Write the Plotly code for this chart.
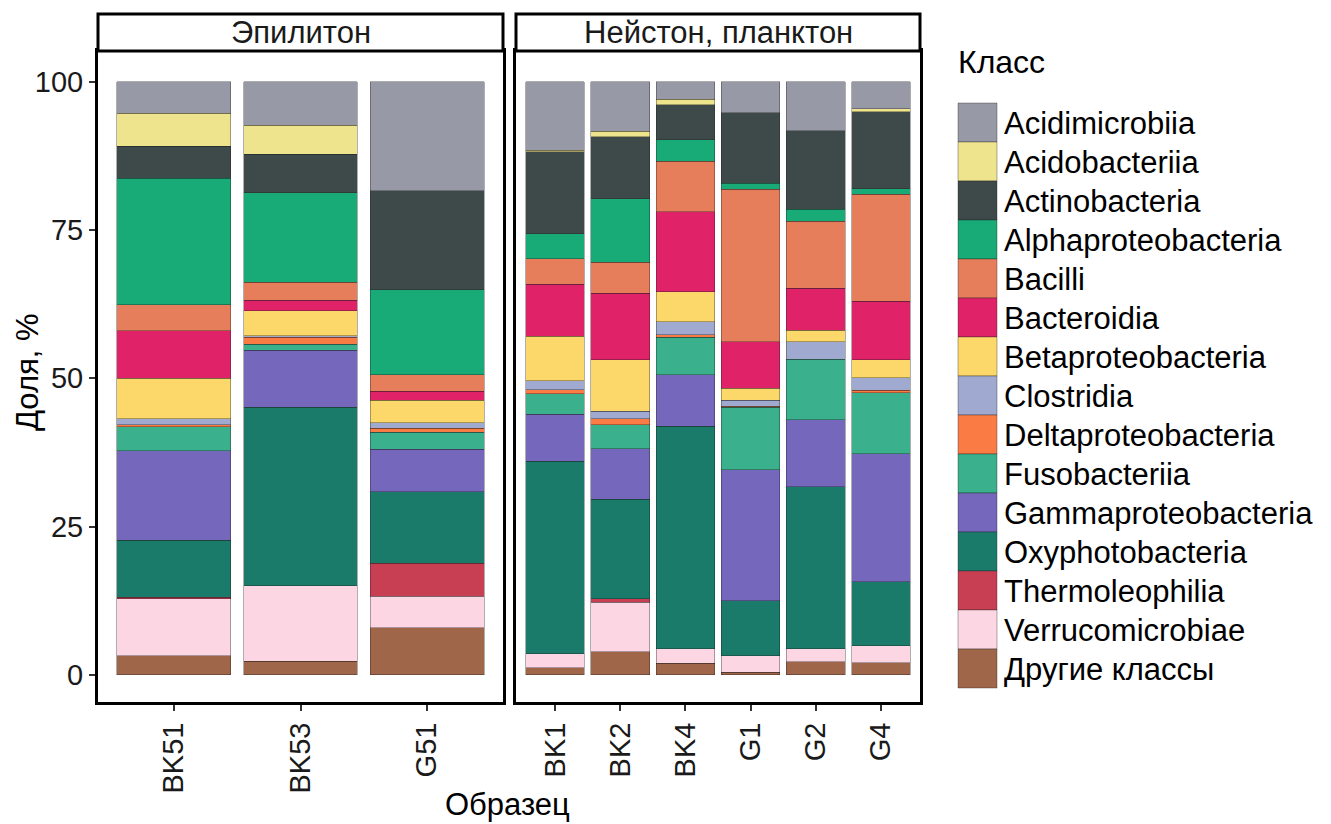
import plotly.graph_objects as go
from plotly.subplots import make_subplots

# ---- data ----
samples_epi = ["BK51", "BK53", "G51"]
samples_np = ["BK1", "BK2", "BK4", "G1", "G2", "G4"]
panel_titles = ["Эпилитон", "Нейстон, планктон"]

classes = ["Acidimicrobiia", "Acidobacteriia", "Actinobacteria", "Alphaproteobacteria",
           "Bacilli", "Bacteroidia", "Betaproteobacteria", "Clostridia",
           "Deltaproteobacteria", "Fusobacteriia", "Gammaproteobacteria",
           "Oxyphotobacteria", "Thermoleophilia", "Verrucomicrobiae", "Другие классы"]

# values order: BK51, BK53, G51, BK1, BK2, BK4, G1, G2, G4
acidimicrobiia = [5.3, 7.3, 18.4, 11.5, 8.3, 2.9, 5.2, 8.25, 4.5]
acidobacteriia = [5.6, 4.9, 0, 0.3, 1.0, 1.0, 0, 0, 0.55]
actinobacteria = [5.4, 6.5, 16.7, 13.8, 10.4, 5.9, 11.9, 13.25, 12.95]
alphaproteobacteria = [21.3, 15.1, 14.3, 4.25, 10.7, 3.6, 1.0, 2.0, 1.0]
bacilli = [4.4, 3.0, 2.8, 4.25, 5.3, 8.5, 25.7, 11.3, 18.0]
bacteroidia = [8.0, 1.8, 1.5, 8.8, 11.2, 13.5, 7.9, 7.1, 9.9]
betaproteobacteria = [6.8, 4.2, 3.8, 7.5, 8.7, 5.1, 2.0, 1.9, 3.05]
clostridia = [1.0, 0.3, 0.9, 1.5, 1.2, 2.15, 1.0, 2.95, 2.05]
deltaproteobacteria = [0.4, 1.2, 0.7, 0.7, 1.0, 0.45, 0.2, 0, 0.4]
fusobacteriia = [4.0, 1.0, 2.9, 3.5, 4.1, 6.3, 10.5, 10.25, 10.3]
gammaproteobacteria = [15.1, 9.6, 7.1, 7.9, 8.5, 8.7, 22.15, 11.3, 21.6]
oxyphotobacteria = [9.6, 30.1, 12.1, 32.5, 16.75, 37.5, 9.25, 27.3, 10.8]
thermoleophilia = [0.25, 0, 5.55, 0, 0.65, 0, 0, 0, 0]
verrucomicrobiae = [9.65, 12.75, 5.35, 2.3, 8.3, 2.5, 2.8, 2.2, 2.9]
others = [3.2, 2.25, 7.9, 1.2, 3.9, 1.9, 0.4, 2.2, 2.0]

values = [acidimicrobiia, acidobacteriia, actinobacteria, alphaproteobacteria,
          bacilli, bacteroidia, betaproteobacteria, clostridia,
          deltaproteobacteria, fusobacteriia, gammaproteobacteria,
          oxyphotobacteria, thermoleophilia, verrucomicrobiae, others]

colors = ["#9899A6", "#EEE48E", "#3E4A4A", "#19AB77", "#E67D5B", "#E02268",
          "#FCD86B", "#A0A9CF", "#FB7B45", "#3AB08C", "#7467BC", "#1A7B6B",
          "#C83F54", "#FCD6E3", "#A0664A"]

FONT = "Liberation Sans, Arial, sans-serif"
FS_TICK = 29
FS_TEXT = 31

W, H = 1331, 824
L, R, T, B = 98, 920, 14, 702  # plot area pixel bounds
PW, PH = R - L, B - T


def px(x):
    return (x - L) / PW


def py(y):
    return (B - y) / PH


panel_top = py(51)
left_dom = [0, px(503)]
right_dom = [px(516), 1]

fig = make_subplots(rows=1, cols=2, shared_yaxes=True, horizontal_spacing=0.0)

n_epi = len(samples_epi)
# bottom-first stacking order
for idx in reversed(range(len(classes))):
    vals = values[idx]
    v_epi = [v if v > 0 else None for v in vals[:n_epi]]
    v_np = [v if v > 0 else None for v in vals[n_epi:]]
    for col, xs, vs in ((1, samples_epi, v_epi), (2, samples_np, v_np)):
        fig.add_trace(go.Bar(
            x=xs, y=vs, name=classes[idx], width=0.9,
            marker=dict(color=colors[idx], line=dict(color="rgba(30,30,30,0.45)", width=0.8)),
            showlegend=False,
        ), row=1, col=col)

fig.update_layout(
    barmode="stack",
    width=W, height=H,
    margin=dict(l=L, r=W - R, t=T, b=H - B),
    paper_bgcolor="white", plot_bgcolor="white",
    font=dict(family=FONT, size=FS_TICK, color="black"),
    showlegend=False,
)

axis_common = dict(showline=True, mirror=True, linecolor="black", linewidth=3,
                   showgrid=False, zeroline=False,
                   ticks="outside", ticklen=6, tickwidth=1.5, tickcolor="#333333",
                   tickfont=dict(family=FONT, size=FS_TICK, color="#1a1a1a"))

fig.update_xaxes(**axis_common, tickangle=-90, type="category")
fig.update_xaxes(domain=left_dom, range=[-0.6, n_epi - 0.4], row=1, col=1)
fig.update_xaxes(domain=right_dom, range=[-0.6, len(samples_np) - 0.4], row=1, col=2)
fig.update_yaxes(**axis_common, domain=[0, panel_top], range=[-4.6, 105.2],
                 tickvals=[0, 25, 50, 75, 100])
fig.update_yaxes(showticklabels=False, ticks="", row=1, col=2)

shapes = []
annotations = []
# strips
for dom, title in zip((left_dom, right_dom), panel_titles):
    shapes.append(dict(type="rect", xref="paper", yref="paper",
                       x0=dom[0], x1=dom[1], y0=panel_top, y1=py(14),
                       line=dict(color="black", width=3), fillcolor="white"))
    annotations.append(dict(text=title, xref="paper", yref="paper",
                            x=(dom[0] + dom[1]) / 2, y=(panel_top + py(14)) / 2,
                            xanchor="center", yanchor="middle", showarrow=False,
                            font=dict(family=FONT, size=FS_TEXT, color="#1a1a1a")))

# axis titles
annotations.append(dict(text="Доля, %", xref="paper", yref="paper",
                        x=px(27), y=py(372), textangle=-90, showarrow=False,
                        xanchor="center", yanchor="middle",
                        font=dict(family=FONT, size=FS_TEXT, color="black")))
annotations.append(dict(text="Образец", xref="paper", yref="paper",
                        x=px(507), y=py(804), showarrow=False,
                        xanchor="center", yanchor="middle",
                        font=dict(family=FONT, size=FS_TEXT, color="black")))

# legend
annotations.append(dict(text="Класс", xref="paper", yref="paper",
                        x=px(956), y=py(62), showarrow=False,
                        xanchor="left", yanchor="middle",
                        font=dict(family=FONT, size=FS_TEXT + 1, color="black")))
key_top, key_h, key_x0, key_x1 = 103, 39, 958, 997
for i, (cls, col) in enumerate(zip(classes, colors)):
    y0 = key_top + i * key_h
    shapes.append(dict(type="rect", xref="paper", yref="paper",
                       x0=px(key_x0), x1=px(key_x1), y0=py(y0 + key_h), y1=py(y0),
                       line=dict(color="rgba(30,30,30,0.45)", width=0.8), fillcolor=col))
    annotations.append(dict(text=cls, xref="paper", yref="paper",
                            x=px(1002), y=py(y0 + key_h / 2 + 1), showarrow=False,
                            xanchor="left", yanchor="middle",
                            font=dict(family=FONT, size=FS_TEXT, color="black")))

fig.update_layout(shapes=shapes, annotations=annotations)
fig.write_html("out.html", config={"displayModeBar": False},
               post_script="document.body.style.margin='0';")
